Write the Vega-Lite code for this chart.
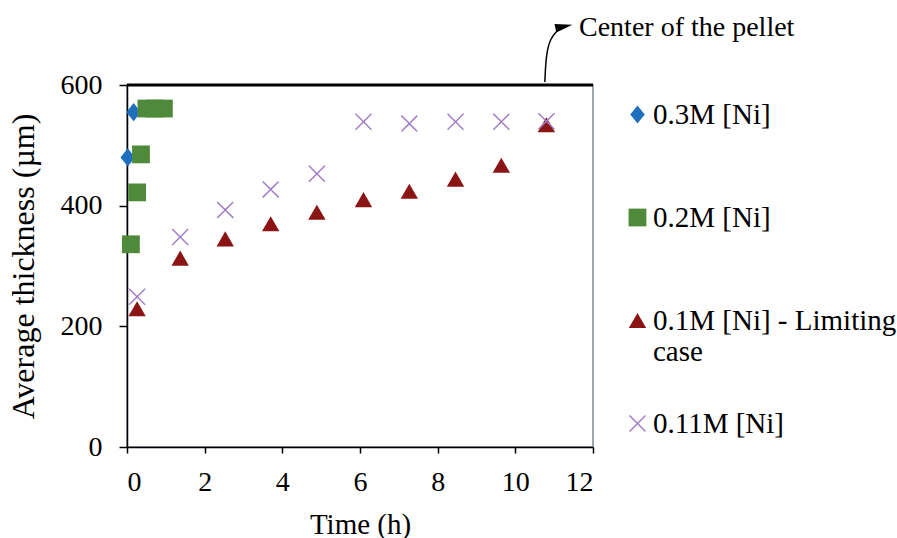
{
  "$schema": "https://vega.github.io/schema/vega-lite/v6.json",
  "width": 466,
  "height": 362,
  "autosize": "none",
  "padding": {"left": 127, "top": 85, "right": 304, "bottom": 91},
  "background": "white",
  "config": {
    "view": {"stroke": "#7f8a9a", "strokeWidth": 1.5},
    "font": "Liberation Serif",
    "axis": {"labelFont": "Liberation Serif", "titleFont": "Liberation Serif", "labelFontSize": 28, "titleFontSize": 29, "titleFontWeight": "normal", "labelColor": "black", "titleColor": "black", "domainColor": "black", "tickColor": "black", "grid": false, "domainWidth": 1.5, "tickWidth": 1.5},
    "legend": {"labelFont": "Liberation Serif", "labelFontSize": 29, "labelColor": "black"}
  },
  "datasets": {
    "pts": [
      {"series": "0.3M [Ni]", "time": 0.02, "thickness": 480},
      {"series": "0.3M [Ni]", "time": 0.17, "thickness": 555},
      {"series": "0.2M [Ni]", "time": 0.1, "thickness": 336},
      {"series": "0.2M [Ni]", "time": 0.26, "thickness": 422},
      {"series": "0.2M [Ni]", "time": 0.36, "thickness": 485},
      {"series": "0.2M [Ni]", "time": 0.5, "thickness": 561},
      {"series": "0.2M [Ni]", "time": 0.72, "thickness": 561},
      {"series": "0.2M [Ni]", "time": 0.95, "thickness": 561},
      {"series": "0.1M [Ni] - Limiting case", "time": 0.26, "thickness": 229},
      {"series": "0.1M [Ni] - Limiting case", "time": 1.37, "thickness": 313},
      {"series": "0.1M [Ni] - Limiting case", "time": 2.53, "thickness": 345},
      {"series": "0.1M [Ni] - Limiting case", "time": 3.7, "thickness": 370},
      {"series": "0.1M [Ni] - Limiting case", "time": 4.89, "thickness": 389},
      {"series": "0.1M [Ni] - Limiting case", "time": 6.09, "thickness": 410},
      {"series": "0.1M [Ni] - Limiting case", "time": 7.27, "thickness": 424},
      {"series": "0.1M [Ni] - Limiting case", "time": 8.46, "thickness": 444},
      {"series": "0.1M [Ni] - Limiting case", "time": 9.64, "thickness": 467},
      {"series": "0.1M [Ni] - Limiting case", "time": 10.8, "thickness": 534},
      {"series": "0.11M [Ni]", "time": 0.26, "thickness": 249},
      {"series": "0.11M [Ni]", "time": 1.37, "thickness": 348},
      {"series": "0.11M [Ni]", "time": 2.53, "thickness": 393},
      {"series": "0.11M [Ni]", "time": 3.7, "thickness": 427},
      {"series": "0.11M [Ni]", "time": 4.89, "thickness": 453},
      {"series": "0.11M [Ni]", "time": 6.09, "thickness": 539},
      {"series": "0.11M [Ni]", "time": 7.27, "thickness": 536},
      {"series": "0.11M [Ni]", "time": 8.46, "thickness": 539},
      {"series": "0.11M [Ni]", "time": 9.64, "thickness": 539},
      {"series": "0.11M [Ni]", "time": 10.8, "thickness": 540}
    ],
    "arrow": [
      {"order": 1, "time": 10.76, "thickness": 605},
      {"order": 2, "time": 10.79, "thickness": 650},
      {"order": 3, "time": 10.9, "thickness": 678},
      {"order": 4, "time": 11.12, "thickness": 693}
    ],
    "head": [{"time": 11.25, "thickness": 697}],
    "note": [{"time": 11.64, "thickness": 694, "label": "Center of the pellet"}],
    "top": [{"thickness": 600}]
  },
  "layer": [
    {
      "data": {"name": "top"},
      "mark": {"type": "rule", "color": "black", "strokeWidth": 3},
      "encoding": {"y": {"field": "thickness", "type": "quantitative", "scale": {"domain": [0, 600], "nice": false}}}
    },
    {
      "data": {"name": "pts"},
      "mark": {"type": "point", "filled": true, "opacity": 1},
      "encoding": {
        "x": {"field": "time", "type": "quantitative", "scale": {"domain": [0, 12], "nice": false}, "axis": {"title": "Time (h)", "values": [0, 2, 4, 6, 8, 10, 12], "tickSize": 6, "labelPadding": 15, "titlePadding": 14, "titleFontSize": 29}},
        "y": {"field": "thickness", "type": "quantitative", "scale": {"domain": [0, 600], "nice": false}, "axis": {"title": "Average thickness (µm)", "values": [0, 200, 400, 600], "tickSize": 8, "labelPadding": 17, "titlePadding": 20, "titleFontSize": 32}},
        "color": {"field": "series", "type": "nominal", "scale": {"domain": ["0.3M [Ni]", "0.2M [Ni]", "0.1M [Ni] - Limiting case", "0.11M [Ni]"], "range": ["#1f6fbf", "#4e8a3a", "#8b1515", "#a07cc8"]}, "legend": {"title": null, "orient": "none", "legendX": 496, "legendY": 15, "symbolSize": 260, "rowPadding": 11, "labelOffset": 1, "labelLimit": 400, "labelFont": "Liberation Serif", "labelFontSize": 29, "labelColor": "black", "labelExpr": "datum.label == '0.1M [Ni] - Limiting case' ? ['0.1M [Ni] - Limiting', 'case', ''] : [datum.label, '', '']"}},
        "shape": {"field": "series", "type": "nominal", "scale": {"domain": ["0.3M [Ni]", "0.2M [Ni]", "0.1M [Ni] - Limiting case", "0.11M [Ni]"], "range": ["M-0.8,0L0,-1L0.8,0L0,1Z", "square", "triangle-up", "M-1,-0.88L-0.88,-1L0,-0.12L0.88,-1L1,-0.88L0.12,0L1,0.88L0.88,1L0,0.12L-0.88,1L-1,0.88L-0.12,0Z"]}, "legend": {"title": null, "orient": "none", "legendX": 496, "legendY": 15, "symbolSize": 260, "rowPadding": 11, "labelOffset": 1, "labelLimit": 400, "labelFont": "Liberation Serif", "labelFontSize": 29, "labelColor": "black", "labelExpr": "datum.label == '0.1M [Ni] - Limiting case' ? ['0.1M [Ni] - Limiting', 'case', ''] : [datum.label, '', '']"}},
        "size": {"field": "series", "type": "nominal", "scale": {"domain": ["0.3M [Ni]", "0.2M [Ni]", "0.1M [Ni] - Limiting case", "0.11M [Ni]"], "range": [330, 289, 470, 484]}, "legend": null}
      }
    },
    {
      "data": {"name": "arrow"},
      "mark": {"type": "line", "color": "black", "strokeWidth": 1.5, "interpolate": "basis"},
      "encoding": {"x": {"field": "time", "type": "quantitative"}, "y": {"field": "thickness", "type": "quantitative"}, "order": {"field": "order"}}
    },
    {
      "data": {"name": "head"},
      "mark": {"type": "point", "shape": "M1,0L-1,-0.5L-1,0.5Z", "angle": -12, "filled": true, "color": "black", "size": 300, "opacity": 1},
      "encoding": {"x": {"field": "time", "type": "quantitative"}, "y": {"field": "thickness", "type": "quantitative"}}
    },
    {
      "data": {"name": "note"},
      "mark": {"type": "text", "align": "left", "baseline": "middle", "font": "Liberation Serif", "fontSize": 28, "color": "black"},
      "encoding": {"x": {"field": "time", "type": "quantitative"}, "y": {"field": "thickness", "type": "quantitative"}, "text": {"field": "label"}}
    }
  ]
}
